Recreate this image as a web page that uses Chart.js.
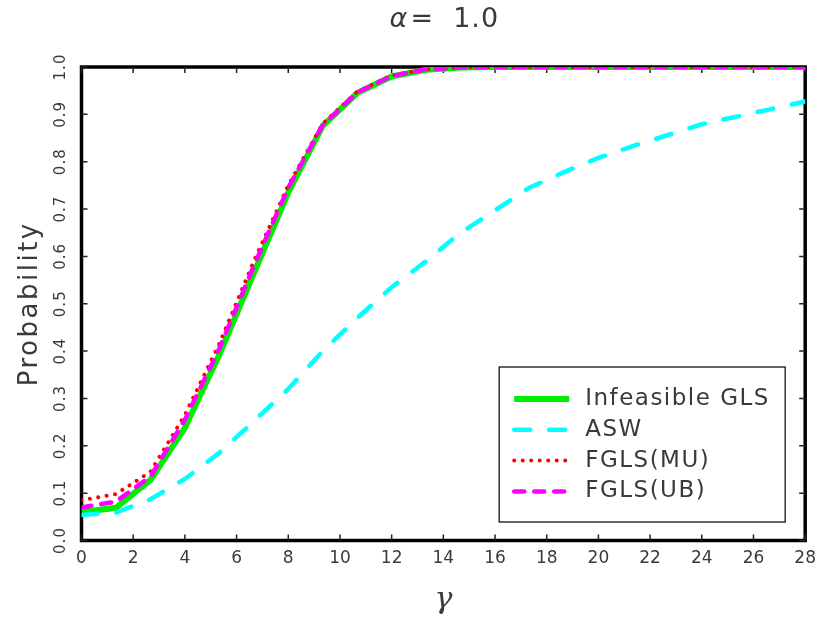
<!DOCTYPE html>
<html>
<head>
<meta charset="utf-8">
<script src="https://cdn.jsdelivr.net/npm/chart.js@4.4.0/dist/chart.umd.min.js"></script>
<style>
  html, body { margin: 0; padding: 0; background: #fff; }
  #wrap { position: relative; width: 816px; height: 619px; }
</style>
</head>
<body>
<div id="wrap"><canvas id="chart"></canvas></div>
<script>
// gamma grid and rejection probabilities
const gammaVals = [0, 1.33, 2.67, 4, 5.33, 6.67, 8, 9.33, 10.67, 12, 13.33, 14.67, 16, 17.33, 18.67, 20, 21.33, 22.67, 24, 25.33, 26.67, 28];
const infeasibleGls = [0.060, 0.069, 0.128, 0.238, 0.392, 0.565, 0.735, 0.875, 0.945, 0.980, 0.994, 0.999, 1, 1, 1, 1, 1, 1, 1, 1, 1, 1];
const asw = [0.054, 0.059, 0.087, 0.130, 0.185, 0.252, 0.320, 0.400, 0.470, 0.535, 0.590, 0.650, 0.697, 0.745, 0.778, 0.808, 0.833, 0.856, 0.879, 0.895, 0.911, 0.927];
const fglsMu = [0.085, 0.098, 0.145, 0.265, 0.415, 0.590, 0.750, 0.880, 0.948, 0.982, 0.995, 0.999, 1, 1, 1, 1, 1, 1, 1, 1, 1, 1];
const fglsUb = [0.070, 0.082, 0.135, 0.255, 0.405, 0.580, 0.745, 0.877, 0.946, 0.981, 0.995, 0.999, 1, 1, 1, 1, 1, 1, 1, 1, 1, 1];

const xTickVals = [0, 2, 4, 6, 8, 10, 12, 14, 16, 18, 20, 22, 24, 26, 28];
const yTickVals = [0, 0.1, 0.2, 0.3, 0.4, 0.5, 0.6, 0.7, 0.8, 0.9, 1.0];
const seriesNames = ['Infeasible GLS', 'ASW', 'FGLS(MU)', 'FGLS(UB)'];
const titleSym = 'α';
const titleRest = '=  1.0';
const yTitle = 'Probability';

const FONT = "'DejaVu Sans', sans-serif";
const TEXT = '#3a3a3a';
const pts = arr => gammaVals.map((g, i) => ({ x: g, y: arr[i] }));

// title, box, inward ticks, rotated y labels, boxed legend
const framePlugin = {
  id: 'frame',
  beforeDatasetsDraw(chart) {
    const { ctx, chartArea: a, scales: { x, y } } = chart;
    ctx.save();
    ctx.strokeStyle = '#000';
    ctx.lineWidth = 3.5;
    ctx.strokeRect(a.left, a.top, a.right - a.left, a.bottom - a.top);

    ctx.lineWidth = 1.5;
    ctx.strokeStyle = '#222';
    ctx.beginPath();
    xTickVals.forEach(v => {
      const px = x.getPixelForValue(v);
      ctx.moveTo(px, a.bottom); ctx.lineTo(px, a.bottom - 6);
      ctx.moveTo(px, a.top); ctx.lineTo(px, a.top + 6);
    });
    yTickVals.forEach(v => {
      const py = y.getPixelForValue(v);
      ctx.moveTo(a.left, py); ctx.lineTo(a.left + 6, py);
      ctx.moveTo(a.right, py); ctx.lineTo(a.right - 6, py);
    });
    ctx.stroke();

    ctx.fillStyle = TEXT;
    ctx.font = `15px ${FONT}`;
    ctx.textAlign = 'center';
    ctx.textBaseline = 'middle';
    ctx.letterSpacing = '1px';
    yTickVals.forEach(v => {
      ctx.save();
      ctx.translate(a.left - 20, y.getPixelForValue(v));
      ctx.rotate(-Math.PI / 2);
      ctx.fillText(v.toFixed(1), 0, 0);
      ctx.restore();
    });

    // y axis title
    ctx.save();
    ctx.font = `26px ${FONT}`;
    ctx.letterSpacing = '2.5px';
    ctx.translate(30, (a.top + a.bottom) / 2);
    ctx.rotate(-Math.PI / 2);
    ctx.fillText(yTitle, 0, 0);
    ctx.restore();

    // title, centred over the plot
    ctx.letterSpacing = '1px';
    ctx.textAlign = 'left';
    const f1 = `italic 27px ${FONT}`, f2 = `27px ${FONT}`;
    ctx.font = f1; const w1 = ctx.measureText(titleSym).width;
    ctx.font = f2; const w2 = ctx.measureText(titleRest).width;
    const tx = (a.left + a.right) / 2 - (w1 + w2) / 2;
    ctx.font = f1; ctx.fillText(titleSym, tx, 20);
    ctx.font = f2; ctx.fillText(titleRest, tx + w1 + 2, 20);
    ctx.restore();
  },
  afterDraw(chart) {
    const { ctx, chartArea: a } = chart;
    const bw = 286, bh = 155;
    const bx = a.right - 20 - bw, by = a.bottom - 18.5 - bh;
    ctx.save();
    ctx.fillStyle = '#fff';
    ctx.fillRect(bx, by, bw, bh);
    ctx.strokeStyle = '#000';
    ctx.lineWidth = 1.2;
    ctx.strokeRect(bx, by, bw, bh);

    chart.data.datasets.forEach((ds, i) => {
      const ry = by + 32 + i * 30.8;
      ctx.beginPath();
      ctx.strokeStyle = ds.borderColor;
      ctx.lineWidth = ds.borderWidth;
      ctx.lineCap = ds.borderCapStyle || 'butt';
      ctx.setLineDash(ds.borderDash || []);
      ctx.moveTo(bx + 15, ry);
      ctx.lineTo(bx + 70, ry);
      ctx.stroke();
      ctx.setLineDash([]);
      ctx.fillStyle = TEXT;
      ctx.font = `23px ${FONT}`;
      ctx.letterSpacing = '1.5px';
      ctx.textAlign = 'left';
      ctx.textBaseline = 'middle';
      ctx.fillText(ds.label, bx + 86, ry);
    });
    ctx.restore();
  }
};

new Chart(document.getElementById('chart'), {
  type: 'line',
  data: {
    datasets: [
      { label: seriesNames[0], data: pts(infeasibleGls), borderColor: '#00ee00', borderWidth: 6, order: 4 },
      { label: seriesNames[1], data: pts(asw), borderColor: '#00ffff', borderWidth: 4.5,
        borderDash: [16, 19], borderCapStyle: 'round', order: 3 },
      { label: seriesNames[2], data: pts(fglsMu), borderColor: '#ff0000', borderWidth: 4,
        borderDash: [0.01, 8.5], borderCapStyle: 'round', order: 2 },
      { label: seriesNames[3], data: pts(fglsUb), borderColor: '#ff00ff', borderWidth: 4.5,
        borderDash: [10, 10], borderCapStyle: 'round', order: 1 }
    ]
  },
  options: {
    responsive: true,
    maintainAspectRatio: false,
    animation: false,
    layout: { padding: { left: 0, right: 7, top: 67, bottom: 0 } },
    elements: { point: { radius: 0 }, line: { tension: 0, fill: false } },
    plugins: {
      legend: { display: false },
      tooltip: { enabled: false },
      title: { display: false }
    },
    scales: {
      x: {
        type: 'linear', min: 0, max: 28,
        ticks: { stepSize: 2, padding: 0, color: TEXT, maxRotation: 0, autoSkip: false,
          font: { family: FONT, size: 17 } },
        grid: { display: false },
        border: { display: false },
        title: { display: true, text: 'γ', color: TEXT,
          font: { family: "'DejaVu Serif', serif", size: 30, style: 'italic' },
          padding: { top: 0, bottom: 1 } },
        afterFit(s) { s.height = 78.5; }
      },
      y: {
        min: 0, max: 1,
        ticks: { display: false, stepSize: 0.1 },
        grid: { display: false },
        border: { display: false },
        title: { display: false },
        afterFit(s) { s.width = 81.5; }
      }
    }
  },
  plugins: [framePlugin]
});
</script>
</body>
</html>
